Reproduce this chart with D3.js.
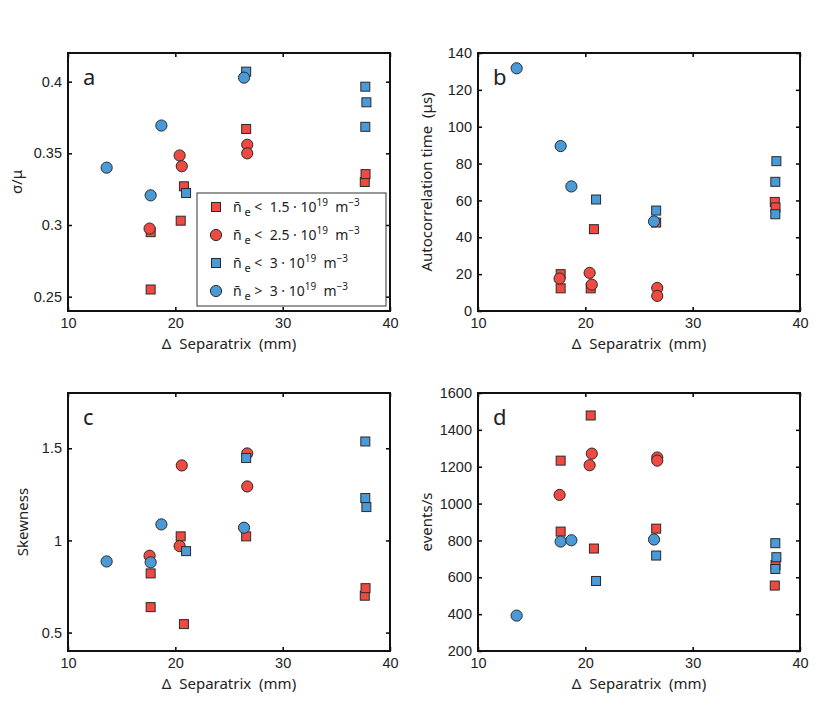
<!DOCTYPE html>
<html>
<head>
<meta charset="utf-8">
<script src="https://cdn.jsdelivr.net/npm/d3@7"></script>
<style>
  body { margin: 0; background: #fff; }
  svg { font-family: "Noto Sans", sans-serif; }
  .tick text { font-size: 14.5px; fill: #222; }
  .tick line { stroke: #000; stroke-width: 1.5; }
</style>
</head>
<body>
<svg width="830" height="727"></svg>
<script>
// separatrix distance (mm) per density group
const sepRedSquare = [17.7, 17.7, 20.5, 20.8, 26.6, 37.65, 37.72];
const sepRedCircle = [17.6, 20.4, 20.6, 26.7, 26.7];
const sepBlueSquare = [21.0, 26.6, 37.7, 37.8, 37.7];
const sepBlueCircle = [13.6, 17.7, 18.7, 26.4];

// panel a: sigma / mu
const cvRedSquare = [0.255, 0.295, 0.303, 0.327, 0.367, 0.330, 0.3355];
const cvRedCircle = [0.2975, 0.3485, 0.341, 0.356, 0.350];
const cvBlueSquare = [0.3223, 0.407, 0.3965, 0.3856, 0.3685];
const cvBlueCircle = [0.340, 0.3207, 0.3694, 0.4028];

// panel b: autocorrelation time (us)
const acRedSquare = [20, 12.3, 12.3, 44.4, 48, 59.2, 56.2];
const acRedCircle = [17.6, 20.7, 14.3, 12.5, 8.2];
const acBlueSquare = [60.5, 54.5, 70.1, 81.3, 52.5];
const acBlueCircle = [131.7, 89.5, 67.6, 48.6];

// panel c: skewness
const skRedSquare = [0.821, 0.638, 1.022, 0.546, 1.022, 0.70, 0.741];
const skRedCircle = [0.917, 0.969, 1.407, 1.472, 1.293];
const skBlueSquare = [0.942, 1.447, 1.537, 1.181, 1.23];
const skBlueCircle = [0.886, 0.881, 1.087, 1.069];

// panel d: events per second
const evRedSquare = [1233, 848, 1478, 756, 864, 555, 667];
const evRedCircle = [1047, 1208, 1271, 1250, 1233];
const evBlueSquare = [580, 718, 785, 709, 645];
const evBlueCircle = [392, 794, 801, 805];

const xTicks = [10, 20, 30, 40];
const legendLabels = [
  { cmp: "<", num: "1.5" },
  { cmp: "<", num: "2.5" },
  { cmp: "<", num: "3" },
  { cmp: ">", num: "3" }
];

const RED = "#ef4a42";
const BLUE = "#4b9ad8";
const EDGE = "#2a2a2a";
const W = 322;
const H = 258;

const groups = [
  { sep: sepRedSquare, fill: RED, shape: "square" },
  { sep: sepRedCircle, fill: RED, shape: "circle" },
  { sep: sepBlueSquare, fill: BLUE, shape: "square" },
  { sep: sepBlueCircle, fill: BLUE, shape: "circle" }
];

const panels = [
  { letter: "a", x: 68, y: 53, domain: [0.24, 0.42], ticks: [0.25, 0.3, 0.35, 0.4],
    label: "σ/μ", labelX: 17, values: [cvRedSquare, cvRedCircle, cvBlueSquare, cvBlueCircle], legend: true },
  { letter: "b", x: 478, y: 53, domain: [0, 140], ticks: d3.range(0, 141, 20),
    label: "Autocorrelation time  (μs)", labelX: 427, values: [acRedSquare, acRedCircle, acBlueSquare, acBlueCircle] },
  { letter: "c", x: 68, y: 393, domain: [0.4, 1.8], ticks: [0.5, 1, 1.5],
    label: "Skewness", labelX: 23, values: [skRedSquare, skRedCircle, skBlueSquare, skBlueCircle] },
  { letter: "d", x: 478, y: 393, domain: [200, 1600], ticks: d3.range(200, 1601, 200),
    label: "events/s", labelX: 427, values: [evRedSquare, evRedCircle, evBlueSquare, evBlueCircle] }
];

const svg = d3.select("svg");

function drawMarker(sel, shape, fill) {
  if (shape === "square") {
    sel.append("rect")
      .attr("x", -4.5).attr("y", -4.5)
      .attr("width", 9).attr("height", 9)
      .attr("fill", fill).attr("stroke", EDGE).attr("stroke-width", 1);
  } else {
    sel.append("circle")
      .attr("r", 5.6)
      .attr("fill", fill).attr("stroke", EDGE).attr("stroke-width", 1);
  }
}

panels.forEach(p => {
  const g = svg.append("g").attr("transform", `translate(${p.x},${p.y})`);
  const x = d3.scaleLinear().domain([10, 40]).range([0, W]);
  const y = d3.scaleLinear().domain(p.domain).range([H, 0]);
  const fmt = d3.format("");

  // inward ticks on all four sides
  g.append("g").attr("transform", `translate(0,${H})`)
    .call(d3.axisBottom(x).tickValues(xTicks).tickSizeInner(-4).tickSizeOuter(0).tickPadding(7).tickFormat(fmt));
  g.append("g")
    .call(d3.axisTop(x).tickValues(xTicks).tickSizeInner(-4).tickSizeOuter(0).tickFormat(""));
  g.append("g")
    .call(d3.axisLeft(y).tickValues(p.ticks).tickSizeInner(-4).tickSizeOuter(0).tickPadding(6).tickFormat(fmt));
  g.append("g").attr("transform", `translate(${W},0)`)
    .call(d3.axisRight(y).tickValues(p.ticks).tickSizeInner(-4).tickSizeOuter(0).tickFormat(""));
  g.selectAll(".domain").remove();

  g.append("rect")
    .attr("width", W).attr("height", H)
    .attr("fill", "none").attr("stroke", "#111").attr("stroke-width", 2);

  groups.forEach((grp, i) => {
    const pts = grp.sep.map((s, j) => [s, p.values[i][j]]);
    g.append("g").selectAll("g")
      .data(pts)
      .join("g")
      .attr("transform", d => `translate(${x(d[0])},${y(d[1])})`)
      .each(function () { drawMarker(d3.select(this), grp.shape, grp.fill); });
  });

  g.append("text")
    .attr("x", 15).attr("y", 32)
    .attr("font-size", 22).attr("fill", "#222")
    .text(p.letter);

  g.append("text")
    .attr("x", W / 2).attr("y", H + 38)
    .attr("text-anchor", "middle")
    .attr("font-size", 15).attr("fill", "#222")
    .style("white-space", "pre")
    .text("Δ  Separatrix  (mm)");

  svg.append("text")
    .attr("transform", `translate(${p.labelX},${p.y + H / 2}) rotate(-90)`)
    .attr("text-anchor", "middle")
    .attr("dy", "0.35em")
    .attr("font-size", 15).attr("fill", "#222")
    .style("white-space", "pre")
    .text(p.label);

  if (p.legend) {
    const lg = g.append("g").attr("transform", "translate(129,140)");
    lg.append("rect")
      .attr("width", 189).attr("height", 113)
      .attr("fill", "#fff").attr("stroke", "#333").attr("stroke-width", 1);
    legendLabels.forEach((l, i) => {
      const row = lg.append("g").attr("transform", `translate(19,${14 + i * 28})`);
      drawMarker(row, groups[i].shape, groups[i].fill);
      const t = row.append("text")
        .attr("x", 17).attr("y", 5)
        .attr("font-size", 14).attr("fill", "#222")
        .style("white-space", "pre");
      t.append("tspan").text("n\u0304");
      t.append("tspan").attr("dy", 4).attr("font-size", 11).text(" e");
      t.append("tspan").attr("dy", -4).text(` ${l.cmp}  ${l.num} · 10`);
      t.append("tspan").attr("dy", -6).attr("font-size", 10).text("19");
      t.append("tspan").attr("dy", 6).text("  m");
      t.append("tspan").attr("dy", -6).attr("font-size", 10).text("−3");
    });
  }
});
</script>
</body>
</html>
